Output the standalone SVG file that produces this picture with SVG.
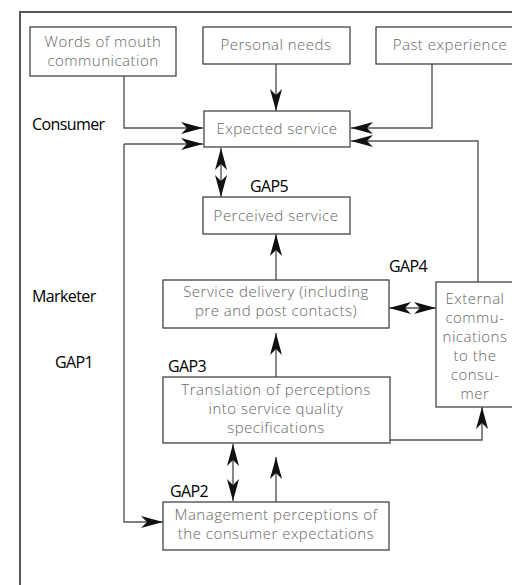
<svg xmlns="http://www.w3.org/2000/svg" width="512" height="585" viewBox="0 0 512 585">
<defs>
<style>
.box{fill:#fff;stroke:#444;stroke-width:1.3}
.bt{font-family:"Open Sans","Noto Sans",sans-serif;font-size:15px;font-weight:300;fill:#666;text-anchor:middle;letter-spacing:0.5px}
.lb{font-family:"Open Sans","Noto Sans",sans-serif;font-size:16px;fill:#000;letter-spacing:-0.6px}
.cn{fill:none;stroke:#555;stroke-width:1.4}
</style>
<marker id="ah" viewBox="0 0 22 12" refX="22" refY="6" markerWidth="22" markerHeight="12" markerUnits="userSpaceOnUse" orient="auto-start-reverse">
<path d="M0,0 L22,6 L0,12 L6,6 Z" fill="#111"/>
</marker>
</defs>
<rect x="20" y="12" width="620" height="700" fill="none" stroke="#555" stroke-width="2"/>
<g id="labels">
<text class="lb" x="32" y="130">Consumer</text>
<text class="lb" x="32" y="302">Marketer</text>
<text class="lb" x="55" y="368">GAP1</text>
<text class="lb" x="250" y="192">GAP5</text>
<text class="lb" x="389" y="272">GAP4</text>
<text class="lb" x="168" y="372">GAP3</text>
<text class="lb" x="170" y="497">GAP2</text>
</g>
<g id="connectors">
<path class="cn" d="M124,76 V128 H203" marker-end="url(#ah)"/>
<path class="cn" d="M124,144 H203" marker-end="url(#ah)"/>
<path class="cn" d="M124,144 V522 H163" marker-end="url(#ah)"/>
<path class="cn" d="M276,64 V111" marker-end="url(#ah)"/>
<path class="cn" d="M432,64 V128 H351" marker-end="url(#ah)"/>
<path class="cn" d="M478,282 V141 H351" marker-end="url(#ah)"/>
<path class="cn" d="M221,148 V197" marker-start="url(#ah)" marker-end="url(#ah)"/>
<path class="cn" d="M276,280 V234" marker-end="url(#ah)"/>
<path class="cn" d="M276,377 V333" marker-end="url(#ah)"/>
<path class="cn" d="M389,308 H436" marker-start="url(#ah)" marker-end="url(#ah)"/>
<path class="cn" d="M390,440 H482 V407" marker-end="url(#ah)"/>
<path class="cn" d="M233,444 V501" marker-start="url(#ah)" marker-end="url(#ah)"/>
<path class="cn" d="M276,502 V457" marker-end="url(#ah)"/>
</g>
<g id="words">
<rect class="box" x="30" y="27" width="146" height="49"/>
<text class="bt" x="103" y="47">Words of mouth</text>
<text class="bt" x="103" y="66">communication</text>
</g>
<g id="personal">
<rect class="box" x="203" y="27" width="147" height="37"/>
<text class="bt" x="276" y="50">Personal needs</text>
</g>
<g id="past">
<rect class="box" x="376" y="27" width="160" height="37"/>
<text class="bt" x="450" y="50">Past experience</text>
</g>
<g id="expected">
<rect class="box" x="204" y="111" width="146" height="36"/>
<text class="bt" x="277" y="134">Expected service</text>
</g>
<g id="perceived">
<rect class="box" x="203" y="197" width="147" height="37"/>
<text class="bt" x="276" y="221">Perceived service</text>
</g>
<g id="delivery">
<rect class="box" x="163" y="280" width="226" height="48"/>
<text class="bt" x="276" y="297">Service delivery (including</text>
<text class="bt" x="276" y="316">pre and post contacts)</text>
</g>
<g id="external">
<rect class="box" x="436" y="282" width="80" height="125"/>
<text class="bt" x="475" y="304">External</text>
<text class="bt" x="475" y="323">commu-</text>
<text class="bt" x="475" y="342">nications</text>
<text class="bt" x="475" y="361">to the</text>
<text class="bt" x="475" y="380">consu-</text>
<text class="bt" x="475" y="399">mer</text>
</g>
<g id="translation">
<rect class="box" x="163" y="377" width="227" height="66"/>
<text class="bt" x="276" y="395">Translation of perceptions</text>
<text class="bt" x="276" y="414">into service quality</text>
<text class="bt" x="276" y="433">specifications</text>
</g>
<g id="management">
<rect class="box" x="163" y="502" width="226" height="48"/>
<text class="bt" x="276" y="520">Management perceptions of</text>
<text class="bt" x="276" y="539">the consumer expectations</text>
</g>
</svg>
